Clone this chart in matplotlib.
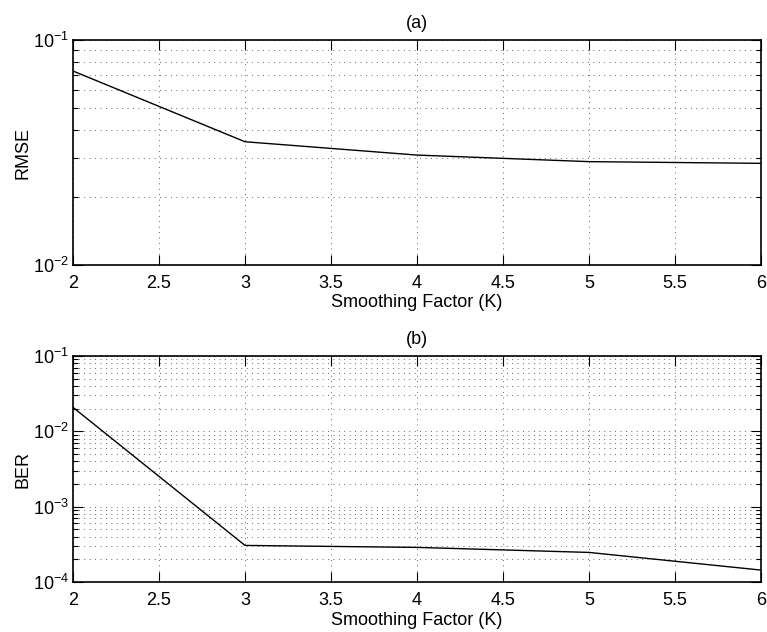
import matplotlib
matplotlib.use("Agg")
import matplotlib.pyplot as plt
import numpy as np
from matplotlib.ticker import LogLocator, NullFormatter

plt.rcParams['font.family'] = ['Liberation Sans', 'DejaVu Sans']
plt.rcParams['mathtext.fontset'] = 'custom'
plt.rcParams['mathtext.rm'] = 'Liberation Sans'
plt.rcParams['mathtext.it'] = 'Liberation Sans:italic'
plt.rcParams['mathtext.default'] = 'regular'
plt.rcParams['font.size'] = 13

k_values = [2, 3, 4, 5, 6]
rmse = [0.0728, 0.0353, 0.0308, 0.0288, 0.0283]
ber = [0.0208, 3.06e-4, 2.88e-4, 2.47e-4, 1.44e-4]
x_ticks = [2, 2.5, 3, 3.5, 4, 4.5, 5, 5.5, 6]
x_tick_labels = ['2', '2.5', '3', '3.5', '4', '4.5', '5', '5.5', '6']

fig = plt.figure(figsize=(7.67, 6.32), dpi=100)
ax1 = fig.add_axes([0.0952, 0.5807, 0.897, 0.356])
ax2 = fig.add_axes([0.0952, 0.0791, 0.897, 0.3576])

def style(ax, ylims, ylabel, title):
    ax.set_yscale('log')
    ax.set_xlim(2, 6)
    ax.set_ylim(*ylims)
    ax.set_xticks(x_ticks)
    ax.set_xticklabels(x_tick_labels)
    ax.yaxis.set_major_locator(LogLocator(base=10, numticks=10))
    ax.yaxis.set_minor_locator(LogLocator(base=10, subs=np.arange(2, 10), numticks=20))
    ax.yaxis.set_minor_formatter(NullFormatter())
    ax.tick_params(which='both', direction='in', top=True, right=True, width=0.8)
    ax.tick_params(which='major', length=7)
    ax.tick_params(axis='x', which='major', pad=7.5)
    ax.tick_params(axis='y', which='major', pad=3)
    ax.tick_params(which='minor', length=3.5)
    ax.grid(True, which='major', axis='both', color='#333333', linestyle=(0, (1, 5.5)), linewidth=0.6)
    ax.grid(True, which='minor', axis='y', color='#333333', linestyle=(0, (1, 5.5)), linewidth=0.6)
    for s in ax.spines.values():
        s.set_linewidth(1.2)
    ax.set_xlabel('Smoothing Factor (K)', labelpad=1.5)
    ax.set_ylabel(ylabel, labelpad=1)
    ax.set_title(title, pad=9, fontsize=13)

ax1.plot(k_values, rmse, color='black', linewidth=1.0)
style(ax1, (1e-2, 1e-1), 'RMSE', '(a)')
ax2.plot(k_values, ber, color='black', linewidth=1.0)
style(ax2, (1e-4, 1e-1), 'BER', '(b)')

fig.savefig('out.png', dpi=100)
